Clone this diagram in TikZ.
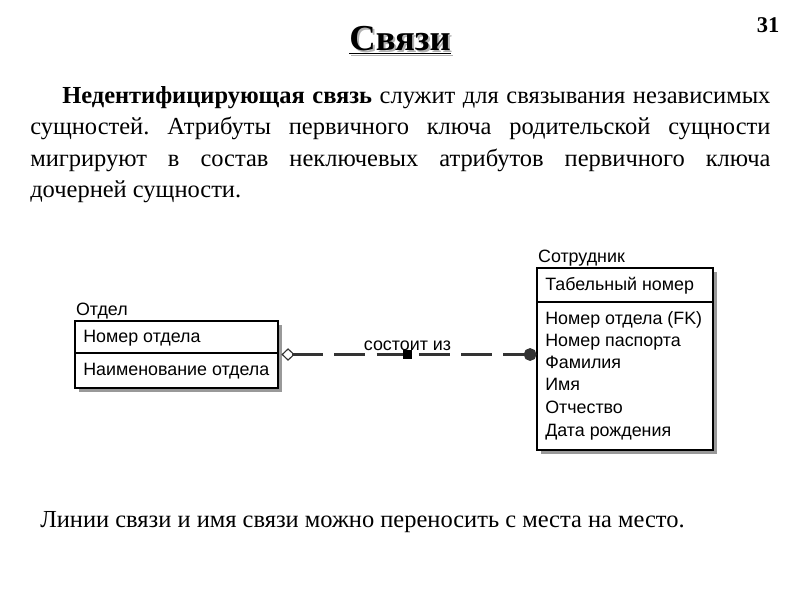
\documentclass[tikz,border=0pt]{standalone}
\usepackage{fontspec}
\setmainfont{Liberation Serif}
\newfontfamily\diagfont{Liberation Sans}
\usetikzlibrary{arrows.meta, positioning, calc, shadows}
\frenchspacing

\begin{document}
\begin{tikzpicture}[x=0.025cm, y=-0.025cm,
  ent/.style={rectangle, draw, thick, fill=white, inner sep=0pt,
    drop shadow={shadow xshift=3pt, shadow yshift=-3pt, fill=gray!80, opacity=1}},
  lbl/.style={font=\diagfont\fontsize{12.7}{14}\selectfont, inner sep=1pt},
  attr/.style={lbl, anchor=west, inner sep=0pt, text height=9pt, text depth=3pt},
  rel/.style={line width=2pt, draw=black!80, dash pattern=on 22pt off 8pt, shorten <=2pt,
    {Diamond[open, length=9.5pt, width=9pt, line width=0.8pt]}-{Circle[length=9pt]}},
  txt/.style={font=\fontsize{17.4}{22.4}\selectfont, inner sep=0pt},
  ttl/.style={font=\bfseries\fontsize{26}{30}\selectfont, inner sep=0pt}
]
\useasboundingbox (0,0) rectangle (800,600);

% Title and page number
\node[ttl, text=gray!60] (ttlshadow) at (402,42) {\underline{Связи}};
\node[ttl] (title) at (400,40) {\underline{Связи}};
\node[font=\bfseries\fontsize{16}{18}\selectfont] (page) at (768,25) {31};

% Paragraph
\node[txt, anchor=north west, text width=18.5cm, align=justify] (para) at (30,86)
  {\hspace*{0.8cm}\textbf{Недентифицирующая связь} служит для связывания независимых\linebreak
   сущностей. Атрибуты первичного ключа родительской сущности\linebreak
   мигрируют в состав неключевых атрибутов первичного ключа\linebreak
   дочерней сущности.};

% Entities
\node[ent, minimum width=5.075cm, minimum height=1.675cm] (otdel) at (176.5,354.5) {};
\node[ent, minimum width=4.4cm, minimum height=4.55cm] (sotr) at (625,359) {};
\node[lbl, anchor=south west] (otdelname) at (otdel.north west) {Отдел};
\node[lbl, anchor=south west] (sotrname) at (sotr.north west) {Сотрудник};
\draw[thick] (otdel.west |- 0,353) -- (otdel.east |- 0,353);
\draw[thick] (sotr.west |- 0,302) -- (sotr.east |- 0,302);

% Attributes
\node[attr] (nomotd) at (83,338) {Номер отдела};
\node[attr] (naimotd) at (83,371) {Наименование отдела};
\node[attr] (tabnom) at (545,286) {Табельный номер};
\node[attr] (fk) at (545,320) {Номер отдела (FK)};
\node[attr] (pasp) at (545,342) {Номер паспорта};
\node[attr] (fam) at (545,364) {Фамилия};
\node[attr] (imya) at (545,386) {Имя};
\node[attr] (otch) at (545,409) {Отчество};
\node[attr] (dr) at (545,432) {Дата рождения};

% Relationship
\draw[rel] (otdel.east) -- node[fill, minimum size=7pt, inner sep=0pt] (mid) {}
  node[lbl, above=1pt] (relname) {состоит из} (otdel.east -| sotr.west);

% Note
\node[txt, anchor=west] (note) at (40,522) {Линии связи и имя связи можно переносить с места на место.};

\end{tikzpicture}
\end{document}
